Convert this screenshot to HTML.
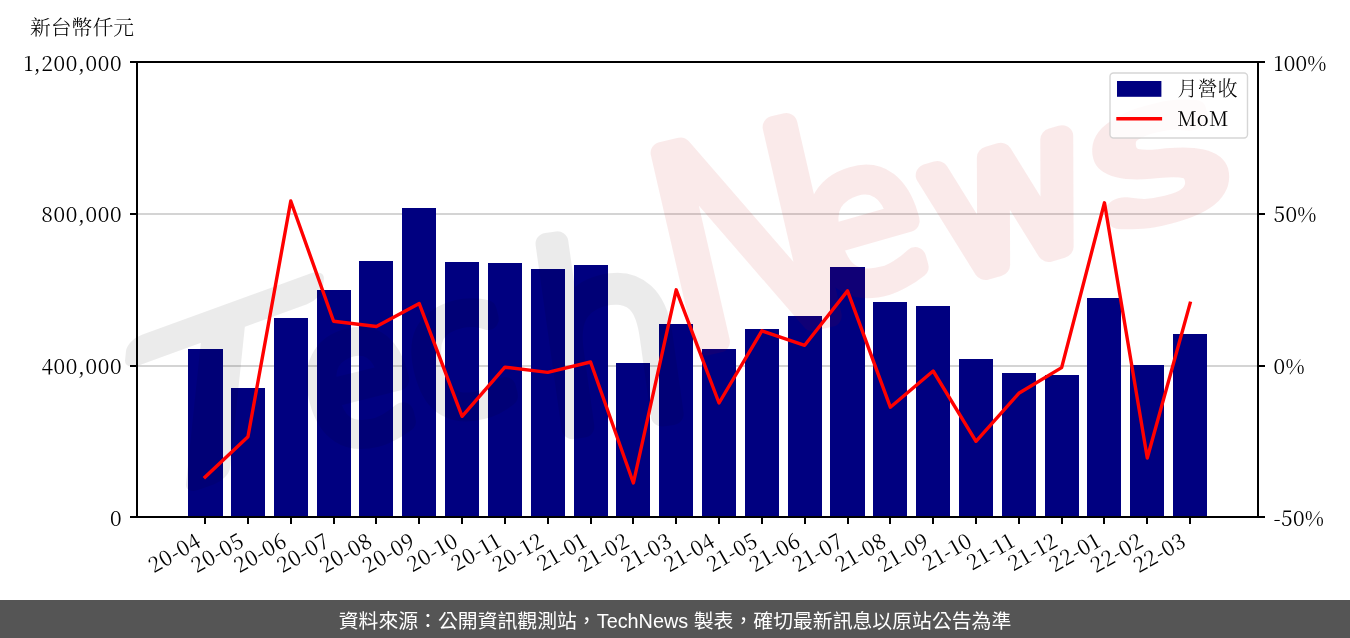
<!DOCTYPE html>
<html lang="zh-Hant">
<head>
<meta charset="utf-8">
<title>月營收 MoM</title>
<style>
html,body{margin:0;padding:0;background:#fff;}
body{width:1350px;height:638px;overflow:hidden;position:relative;}
svg{position:absolute;left:0;top:0;display:block;}
.t{font-family:'Noto Serif CJK SC','Noto Serif CJK TC','Liberation Serif',serif;font-weight:300;font-size:20.8px;fill:#000;}
.n{letter-spacing:0.65px;font-weight:400;}
.foot{position:absolute;left:0;top:600px;width:1350px;height:38px;background:#555;color:#fff;
 font-family:"Liberation Sans","Noto Sans CJK TC",sans-serif;font-size:19.85px;line-height:43px;text-align:center;white-space:nowrap;}
</style>
</head>
<body>
<svg width="1350" height="638" viewBox="0 0 1350 638">

<rect x="137.0" y="213.0" width="1121.0" height="2" fill="#d4d4d4"/>
<rect x="137.0" y="365.0" width="1121.0" height="2" fill="#d4d4d4"/>
<g fill="#000080" shape-rendering="crispEdges">
<rect x="188" y="349.00" width="35" height="168.00"/>
<rect x="231" y="388.00" width="34" height="129.00"/>
<rect x="274" y="318.00" width="34" height="199.00"/>
<rect x="317" y="290.00" width="34" height="227.00"/>
<rect x="359" y="261.00" width="34" height="256.00"/>
<rect x="402" y="208.00" width="34" height="309.00"/>
<rect x="445" y="262.00" width="34" height="255.00"/>
<rect x="488" y="263.00" width="34" height="254.00"/>
<rect x="531" y="269.00" width="34" height="248.00"/>
<rect x="574" y="265.00" width="34" height="252.00"/>
<rect x="616" y="363.00" width="34" height="154.00"/>
<rect x="659" y="324.00" width="34" height="193.00"/>
<rect x="702" y="349.00" width="34" height="168.00"/>
<rect x="745" y="329.00" width="34" height="188.00"/>
<rect x="788" y="316.00" width="34" height="201.00"/>
<rect x="830" y="267.00" width="35" height="250.00"/>
<rect x="873" y="302.00" width="34" height="215.00"/>
<rect x="916" y="306.00" width="34" height="211.00"/>
<rect x="959" y="359.00" width="34" height="158.00"/>
<rect x="1002" y="373.00" width="34" height="144.00"/>
<rect x="1045" y="375.00" width="34" height="142.00"/>
<rect x="1087" y="298.00" width="34" height="219.00"/>
<rect x="1130" y="365.00" width="34" height="152.00"/>
<rect x="1173" y="334.00" width="34" height="183.00"/>
</g>
<g style="font-family:'DejaVu Sans','Liberation Sans',sans-serif;font-weight:200" stroke-width="22" stroke-linejoin="round" stroke-linecap="round">
<g fill="#000" stroke="#000" opacity="0.075">
<text transform="translate(208,476) rotate(6) skewY(-26) scale(1.28,1)" font-size="222" text-anchor="middle">T</text>
<text transform="translate(318,448) rotate(-14)" font-size="175">e</text>
<text transform="translate(425,420) rotate(-14)" font-size="175">c</text>
<text transform="translate(545,432) rotate(-8)" font-size="245">h</text>
</g>
<g fill="#c80a0a" stroke="#c80a0a" opacity="0.08">
<text transform="translate(674,352) rotate(-13)" font-size="270">N</text>
<text transform="translate(822,300) rotate(-16)" font-size="195">e</text>
<text transform="translate(944,281) rotate(-16) scale(1.08,1)" font-size="195">w</text>
<text transform="translate(1106,226) rotate(-14) scale(1.5,1)" font-size="172">s</text>
</g>
</g>
<polyline points="205.12,477.00 247.95,436.80 290.77,201.00 333.60,321.30 376.42,326.50 419.25,303.60 462.08,416.30 504.90,367.20 547.73,372.40 590.55,362.00 633.38,483.00 676.21,289.80 719.03,403.00 761.86,330.80 804.68,345.30 847.51,290.90 890.34,407.20 933.16,371.00 975.99,441.30 1018.81,393.30 1061.64,367.60 1104.47,202.80 1147.29,458.00 1190.12,303.30" fill="none" stroke="#ff0000" stroke-width="3.4" stroke-linejoin="round" stroke-linecap="square"/>
<rect x="137.0" y="62.0" width="1121.0" height="455.0" fill="none" stroke="#000" stroke-width="2"/>
<path d="M130.0 62.00H137.0M1258.0 62.00H1265.0M130.0 214.00H137.0M1258.0 214.00H1265.0M130.0 366.00H137.0M1258.0 366.00H1265.0M130.0 517.00H137.0M1258.0 517.00H1265.0M205 517.0V524.0M248 517.0V524.0M291 517.0V524.0M334 517.0V524.0M376 517.0V524.0M419 517.0V524.0M462 517.0V524.0M505 517.0V524.0M548 517.0V524.0M591 517.0V524.0M633 517.0V524.0M676 517.0V524.0M719 517.0V524.0M762 517.0V524.0M805 517.0V524.0M848 517.0V524.0M890 517.0V524.0M933 517.0V524.0M976 517.0V524.0M1019 517.0V524.0M1062 517.0V524.0M1104 517.0V524.0M1147 517.0V524.0M1190 517.0V524.0" stroke="#000" stroke-width="2" fill="none"/>
<text class="t n" x="122.2" y="70.6" text-anchor="end">1,200,000</text>
<text class="t n" x="122.2" y="222.3" text-anchor="end">800,000</text>
<text class="t n" x="122.2" y="373.9" text-anchor="end">400,000</text>
<text class="t n" x="122.2" y="525.6" text-anchor="end">0</text>
<text class="t n" style="letter-spacing:0.25px" x="1273.6" y="70.6">100%</text>
<text class="t n" style="letter-spacing:0.25px" x="1273.6" y="222.3">50%</text>
<text class="t n" style="letter-spacing:0.25px" x="1273.6" y="373.9">0%</text>
<text class="t n" style="letter-spacing:0.25px" x="1273.6" y="525.6">-50%</text>
<text class="t n" transform="translate(202.92,545.2) rotate(-30)" text-anchor="end">20-04</text>
<text class="t n" transform="translate(245.75,545.2) rotate(-30)" text-anchor="end">20-05</text>
<text class="t n" transform="translate(288.57,545.2) rotate(-30)" text-anchor="end">20-06</text>
<text class="t n" transform="translate(331.40,545.2) rotate(-30)" text-anchor="end">20-07</text>
<text class="t n" transform="translate(374.22,545.2) rotate(-30)" text-anchor="end">20-08</text>
<text class="t n" transform="translate(417.05,545.2) rotate(-30)" text-anchor="end">20-09</text>
<text class="t n" transform="translate(459.88,545.2) rotate(-30)" text-anchor="end">20-10</text>
<text class="t n" transform="translate(502.70,545.2) rotate(-30)" text-anchor="end">20-11</text>
<text class="t n" transform="translate(545.53,545.2) rotate(-30)" text-anchor="end">20-12</text>
<text class="t n" transform="translate(588.35,545.2) rotate(-30)" text-anchor="end">21-01</text>
<text class="t n" transform="translate(631.18,545.2) rotate(-30)" text-anchor="end">21-02</text>
<text class="t n" transform="translate(674.01,545.2) rotate(-30)" text-anchor="end">21-03</text>
<text class="t n" transform="translate(716.83,545.2) rotate(-30)" text-anchor="end">21-04</text>
<text class="t n" transform="translate(759.66,545.2) rotate(-30)" text-anchor="end">21-05</text>
<text class="t n" transform="translate(802.48,545.2) rotate(-30)" text-anchor="end">21-06</text>
<text class="t n" transform="translate(845.31,545.2) rotate(-30)" text-anchor="end">21-07</text>
<text class="t n" transform="translate(888.14,545.2) rotate(-30)" text-anchor="end">21-08</text>
<text class="t n" transform="translate(930.96,545.2) rotate(-30)" text-anchor="end">21-09</text>
<text class="t n" transform="translate(973.79,545.2) rotate(-30)" text-anchor="end">21-10</text>
<text class="t n" transform="translate(1016.61,545.2) rotate(-30)" text-anchor="end">21-11</text>
<text class="t n" transform="translate(1059.44,545.2) rotate(-30)" text-anchor="end">21-12</text>
<text class="t n" transform="translate(1102.27,545.2) rotate(-30)" text-anchor="end">22-01</text>
<text class="t n" transform="translate(1145.09,545.2) rotate(-30)" text-anchor="end">22-02</text>
<text class="t n" transform="translate(1187.92,545.2) rotate(-30)" text-anchor="end">22-03</text>
<text class="t" x="30" y="35">新台幣仟元</text>
<rect x="1110" y="73" width="137.5" height="65" rx="3.5" ry="3.5" fill="#fff" fill-opacity="0.8" stroke="#ccc" stroke-opacity="0.8" stroke-width="1.4"/>
<rect x="1117" y="81" width="44.4" height="15.8" fill="#000080"/>
<line x1="1118" x2="1160.4" y1="118.8" y2="118.8" stroke="#ff0000" stroke-width="3.4" stroke-linecap="square"/>
<text class="t" x="1177.4" y="96" style="font-size:20px">月營收</text>
<text class="t" x="1177.3" y="126.2" style="font-size:20px;letter-spacing:0.5px;font-weight:400">MoM</text>
</svg>
<div class="foot">資料來源：公開資訊觀測站，TechNews 製表，確切最新訊息以原站公告為準</div>
</body>
</html>
